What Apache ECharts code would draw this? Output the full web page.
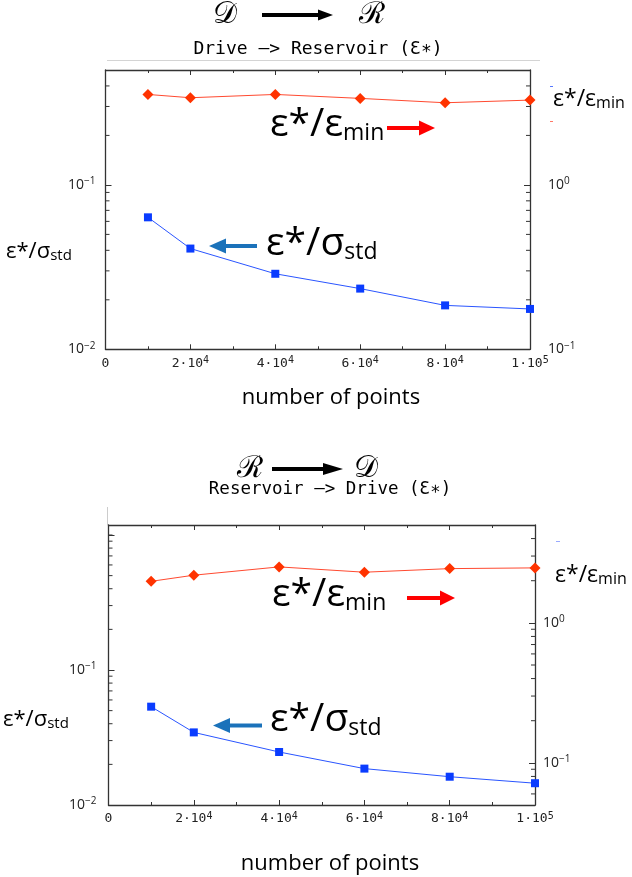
<!DOCTYPE html>
<html><head><meta charset="utf-8">
<script src="https://cdn.jsdelivr.net/npm/echarts@6/dist/echarts.min.js"></script>
<style>html,body{margin:0;padding:0;background:#fff}#c{width:632px;height:877px}</style>
</head><body><div id="c"></div>
<script>
// ---- data ----
const xValues = [10000, 20000, 40000, 60000, 80000, 100000];
const topStd = [0.0635, 0.041, 0.0288, 0.0234, 0.0185, 0.0176];   // ε*/σstd (left axis)
const topMin = [3.55, 3.39, 3.55, 3.36, 3.16, 3.28];              // ε*/εmin (right axis)
const botStd = [0.0535, 0.0345, 0.0247, 0.0186, 0.0162, 0.0145];
const botMin = [1.98, 2.19, 2.51, 2.30, 2.44, 2.47];

const xTicks = [0, 20000, 40000, 60000, 80000, 100000];
const xTickLabels = ['0', '2·10^4', '4·10^4', '6·10^4', '8·10^4', '1·10^5'];
const topLeftTicks = [0.01, 0.1];   const topLeftLabels = ['10^−2', '10^−1'];
const topRightTicks = [0.1, 1];     const topRightLabels = ['10^−1', '10^0'];
const botLeftTicks = [0.01, 0.1];   const botLeftLabels = ['10^−2', '10^−1'];
const botRightTicks = [0.1, 1];     const botRightLabels = ['10^−1', '10^0'];
// minor (log) tick values
const topLeftMinor = [0.02, 0.03, 0.04, 0.05, 0.06, 0.07, 0.08, 0.09, 0.2, 0.3, 0.4];
const topRightMinor = [0.2, 0.3, 0.4, 0.5, 0.6, 0.7, 0.8, 0.9, 2, 3, 4];
const botLeftMinor = [0.02, 0.03, 0.04, 0.05, 0.06, 0.07, 0.08, 0.09, 0.2, 0.3, 0.4, 0.5, 0.6, 0.7, 0.8, 0.9, 1];
const botRightMinor = [0.06, 0.07, 0.08, 0.09, 0.2, 0.3, 0.4, 0.5, 0.6, 0.7, 0.8, 0.9, 2, 3, 4];

const chart = echarts.init(document.getElementById('c'), null, {renderer: 'canvas'});
const AX = '#333';
const SANS = '"Open Sans","Noto Sans",sans-serif';
const MONO = '"DejaVu Sans Mono",monospace';
const SCRIPT = '"DejaVu Serif",serif';

function supMarkup(label) {
  const p = label.split('^');
  return p.length < 2 ? '{b|' + p[0] + '}' : '{b|' + p[0] + '}{s|' + p[1] + '}';
}
function xFmt(v) {
  const i = xTicks.indexOf(Math.round(v));
  return i < 0 ? '' : supMarkup(xTickLabels[i]);
}
function yFmt(ticks, labels) {
  return function (v) {
    const i = ticks.findIndex(t => Math.abs(Math.log10(t) - Math.log10(v)) < 1e-6);
    return i < 0 ? '' : supMarkup(labels[i]);
  };
}
const yRich = {
  b: {fontFamily: SANS, fontSize: 14, color: '#222', lineHeight: 17},
  s: {fontFamily: SANS, fontSize: 10, color: '#222', lineHeight: 10, verticalAlign: 'top'}
};
const xRich = {
  b: {fontFamily: MONO, fontSize: 13, color: '#222', lineHeight: 16},
  s: {fontFamily: MONO, fontSize: 10, color: '#222', lineHeight: 10, verticalAlign: 'top'}
};
function xAx(grid, pos, labels) {
  return {
    type: 'value', gridIndex: grid, position: pos, min: 0, max: 100000, interval: 20000,
    axisLine: {show: true, onZero: false, lineStyle: {color: AX, width: 1.3}},
    axisTick: {show: true, inside: true, length: 5, lineStyle: {color: AX, width: 1}},
    minorTick: {show: true, splitNumber: 2, length: 3, lineStyle: {color: AX, width: 1}},
    splitLine: {show: false}, minorSplitLine: {show: false},
    axisLabel: {show: labels, margin: 6, formatter: xFmt, rich: xRich}
  };
}
function yAx(grid, pos, min, max, ticks, labels, margin) {
  return {
    type: 'log', logBase: 10, gridIndex: grid, position: pos, min: min, max: max,
    axisLine: {show: true, onZero: false, lineStyle: {color: AX, width: 1.3}},
    axisTick: {show: true, inside: true, length: 6, lineStyle: {color: AX, width: 1}},
    splitLine: {show: false},
    axisLabel: {show: true, margin: margin, formatter: yFmt(ticks, labels), rich: yRich}
  };
}
// minor log ticks drawn through the axis scale
function minorTicks(xi, yi, vals, xEdge, dir) {
  return {
    type: 'custom', xAxisIndex: xi, yAxisIndex: yi, silent: true, animation: false, z: 3,
    data: vals.map(v => [xEdge, v]),
    renderItem: function (params, api) {
      const p = api.coord([api.value(0), api.value(1)]);
      return {type: 'line', shape: {x1: p[0], y1: p[1], x2: p[0] + dir * 4, y2: p[1]},
        style: {stroke: AX, lineWidth: 1}};
    }
  };
}

function arrow(x1, x2, y, headLen, headH, w, color) {
  const dir = x2 > x1 ? 1 : -1;
  const base = x2 - dir * headLen;
  return [
    {type: 'line', silent: true, shape: {x1: x1, y1: y, x2: base, y2: y}, style: {stroke: color, lineWidth: w}},
    {type: 'polygon', silent: true, shape: {points: [[base, y - headH / 2], [x2, y], [base, y + headH / 2]]}, style: {fill: color}}
  ];
}
function subText(x, y, main, sub, fm, fs, subLH, color) {
  return {
    type: 'text', x: x, y: y, silent: true,
    style: {
      text: '{m|' + main + '}{s|' + sub + '}', verticalAlign: 'middle', align: 'left',
      rich: {
        m: {fontFamily: SANS, fontSize: fm, lineHeight: fm + 1, fill: color || '#000', color: color || '#000'},
        s: {fontFamily: SANS, fontSize: fs, lineHeight: subLH, verticalAlign: 'bottom', fill: color || '#000', color: color || '#000'}
      }
    }
  };
}
function plain(x, y, text, font, size, align) {
  return {type: 'text', x: x, y: y, silent: true,
    style: {text: text, fontFamily: font, fontSize: size, fill: '#000', align: align || 'center', verticalAlign: 'middle'}};
}

const graphics = [].concat(
  // top header
  [plain(225, 15, '𝒟', SCRIPT, 30), plain(372, 15, 'ℛ', SCRIPT, 30)],
  arrow(262, 333, 15, 15, 11, 4, '#000'),
  [plain(318, 49, 'Drive –> Reservoir (Ɛ∗)', MONO, 18)],
  [{type: 'line', silent: true, shape: {x1: 107, y1: 60.5, x2: 540, y2: 60.5}, style: {stroke: '#d4d4d4', lineWidth: 1}}],
  // top annotations
  [subText(270, 125, 'ε*/ε', 'min', 39, 23, 13)],
  arrow(387, 435, 128, 16, 15, 4, '#ff0000'),
  [subText(266, 244, 'ε*/σ', 'std', 39, 23, 13)],
  arrow(257, 209, 246, 17, 15, 4, '#1b72ba'),
  [subText(6, 252, 'ε*/σ', 'std', 22, 15, 10)],
  [subText(553, 99, 'ε*/ε', 'min', 23, 16, 10)],
  [{type: 'line', silent: true, shape: {x1: 550, y1: 86.5, x2: 553, y2: 86.5}, style: {stroke: '#5577ff', lineWidth: 1}},
   {type: 'line', silent: true, shape: {x1: 550, y1: 121.5, x2: 553, y2: 121.5}, style: {stroke: '#ff7766', lineWidth: 1}}],
  [plain(331, 398, 'number of points', SANS, 22)],
  // bottom header
  [plain(250, 469, 'ℛ', SCRIPT, 30), plain(366, 469, '𝒟', SCRIPT, 30)],
  arrow(272, 343, 469, 20, 12, 4, '#000'),
  [plain(330, 489, 'Reservoir –> Drive (Ɛ∗)', MONO, 17.5)],
  [{type: 'line', silent: true, shape: {x1: 107.5, y1: 507, x2: 107.5, y2: 525}, style: {stroke: '#cccccc', lineWidth: 1}}],
  [subText(272, 595, 'ε*/ε', 'min', 39, 23, 13)],
  arrow(407, 455, 598, 15, 15, 4, '#ff0000'),
  [subText(270, 720, 'ε*/σ', 'std', 39, 23, 13)],
  arrow(262, 213, 725.5, 17, 15, 4, '#1b72ba'),
  [subText(3, 720, 'ε*/σ', 'std', 22, 15, 10)],
  [subText(555, 575, 'ε*/ε', 'min', 23, 16, 10)],
  [{type: 'line', silent: true, shape: {x1: 556, y1: 541.5, x2: 560, y2: 541.5}, style: {stroke: '#99aaff', lineWidth: 1}}],
  [plain(330, 864, 'number of points', SANS, 22)]
);

function line(xi, yi, vals, kind) {
  const red = kind === 'min';
  return {
    type: 'line', xAxisIndex: xi, yAxisIndex: yi, silent: true, animation: false, z: 5,
    data: xValues.map((x, i) => [x, vals[i]]),
    symbol: red ? 'diamond' : 'rect', symbolSize: red ? 11 : 8, showAllSymbol: true,
    itemStyle: {color: red ? '#ff3300' : '#0a3cff'},
    lineStyle: {color: red ? '#ff4a30' : '#2a55ff', width: 1}
  };
}

chart.setOption({
  animation: false,
  backgroundColor: '#fff',
  grid: [
    {left: 105.5, top: 70, width: 424.5, height: 279.3},
    {left: 108.5, top: 525, width: 426.5, height: 280}
  ],
  xAxis: [xAx(0, 'bottom', true), xAx(0, 'top', false), xAx(1, 'bottom', true), xAx(1, 'top', false)],
  yAxis: [
    yAx(0, 'left', 0.01, 0.5, topLeftTicks, topLeftLabels, 10),
    yAx(0, 'right', 0.1, 5, topRightTicks, topRightLabels, 18),
    yAx(1, 'left', 0.01, 1.186, botLeftTicks, botLeftLabels, 12),
    yAx(1, 'right', 0.05, 5, botRightTicks, botRightLabels, 8)
  ],
  series: [
    minorTicks(0, 0, topLeftMinor, 0, 1), minorTicks(0, 1, topRightMinor, 100000, -1),
    minorTicks(2, 2, botLeftMinor, 0, 1), minorTicks(2, 3, botRightMinor, 100000, -1),
    line(0, 0, topStd, 'std'), line(0, 1, topMin, 'min'),
    line(2, 2, botStd, 'std'), line(2, 3, botMin, 'min')
  ],
  graphic: graphics
});
</script></body></html>
